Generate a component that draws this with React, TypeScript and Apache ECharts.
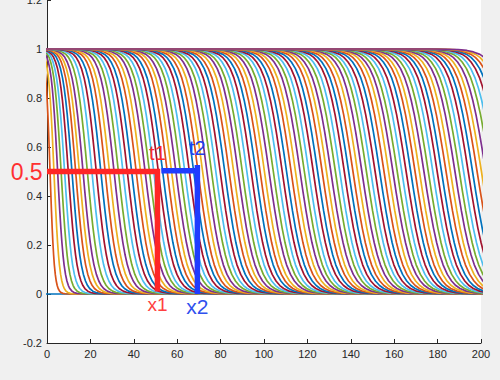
import React, { useEffect, useRef } from "react";
import * as echarts from "echarts";

// MATLAB default colour order
const COLORS = ["#0072BD", "#D95319", "#EDB120", "#7E2F8E", "#77AC30", "#4DBEEE", "#A2142F"];

// Front position (x where u = 0.5) of each curve t = 1..108
const MIDPOINTS = [
  1.4, 3.2, 4.9, 6.5, 8.1, 9.8, 11.5, 13.2, 14.9, 16.6,
  18.6, 20.7, 22.7, 24.8, 26.8, 28.8, 30.9, 32.9, 35.0, 37.0,
  39.0, 41.1, 43.1, 45.2, 47.2, 49.2, 51.3, 53.3, 55.4, 57.4,
  59.4, 61.5, 63.5, 65.6, 67.6, 69.6, 71.7, 73.7, 75.8, 77.8,
  79.8, 81.9, 83.9, 86.0, 88.0, 90.0, 92.1, 94.1, 96.2, 98.2,
  100.2, 102.3, 104.3, 106.4, 108.4, 110.4, 112.5, 114.5, 116.6, 118.6,
  120.6, 122.7, 124.7, 126.8, 128.8, 130.8, 132.9, 134.9, 137.0, 139.0,
  141.0, 143.1, 145.1, 147.2, 149.2, 151.2, 153.3, 155.3, 157.4, 159.4,
  161.4, 163.5, 165.5, 167.6, 169.6, 171.6, 173.7, 175.7, 177.8, 179.8,
  181.8, 183.9, 185.9, 188.0, 190.0, 192.0, 194.1, 196.1, 198.2, 200.2,
  202.2, 204.3, 206.3, 208.4, 210.4, 212.4, 214.5, 216.5,
];

// Relative front width of each curve t = 1..108
const WIDTHS = [
  0.22, 0.28, 0.33, 0.37, 0.41, 0.45, 0.48, 0.51, 0.54, 0.56,
  0.58, 0.6, 0.62, 0.64, 0.65, 0.67, 0.68, 0.69, 0.71, 0.72,
  0.73, 0.74, 0.75, 0.76, 0.77, 0.77, 0.78, 0.79, 0.79, 0.8,
  0.81, 0.81, 0.82, 0.82, 0.83, 0.83, 0.84, 0.84, 0.85, 0.85,
  0.86, 0.86, 0.87, 0.87, 0.87, 0.88, 0.88, 0.88, 0.89, 0.89,
  0.89, 0.9, 0.9, 0.9, 0.91, 0.91, 0.91, 0.92, 0.92, 0.92,
  0.92, 0.93, 0.93, 0.93, 0.93, 0.94, 0.94, 0.94, 0.94, 0.95,
  0.95, 0.95, 0.95, 0.95, 0.96, 0.96, 0.96, 0.96, 0.96, 0.97,
  0.97, 0.97, 0.97, 0.97, 0.97, 0.98, 0.98, 0.98, 0.98, 0.98,
  0.98, 0.99, 0.99, 0.99, 0.99, 0.99, 0.99, 0.99, 1, 1,
  1, 1, 1, 1, 1, 1, 1, 1,
];

// Shape of one front (offset from its midpoint, value)
const PROFILE_DX = [
  -40, -32, -27, -23, -20, -17, -15, -13, -11, -9, -7.5, -6, -4.5, -3, -1.5, 0,
  1.5, 3, 4.5, 6, 7.5, 9, 11, 13, 15, 17, 20, 23, 27, 32, 40,
];
const PROFILE_U = [
  1, 0.999, 0.9975, 0.994, 0.988, 0.978, 0.966, 0.947, 0.92, 0.881, 0.841, 0.791, 0.731, 0.661, 0.583, 0.5,
  0.417, 0.339, 0.269, 0.209, 0.159, 0.119, 0.08, 0.053, 0.0345, 0.0224, 0.0116, 0.006, 0.0025, 0.001, 0,
];

const X_MIN = 0, X_MAX = 200, X_STEP = 20;
const Y_MIN = -0.2, Y_MAX = 1.2, Y_STEP = 0.2;

// Annotations
const RED_PATH = [[0, 0.5], [50.9, 0.5], [50.9, 0.01]];
const BLUE_H = [[52.7, 0.503], [70.4, 0.503]];
const BLUE_V = [[69.3, 0.527], [69.3, 0]];
const RED = "#ff2626";
const BLUE = "#1f3cff";

// Annotation texts: [text, anchor x, anchor y, colour, font size, align, vertical align]
const NOTES: [string, number, number, string, number, string, string][] = [
  ["0.5", -2, 0.5, "#ff3030", 23, "right", "middle"],
  ["t1", 50.9, 0.535, "#ff2a2a", 20, "center", "bottom"],
  ["t2", 69.3, 0.555, "#2040f0", 20, "center", "bottom"],
  ["x1", 50.9, -0.005, "#ff4040", 19, "center", "top"],
  ["x2", 69.3, -0.01, "#3050ee", 21, "center", "top"],
];

const FONT = "'Liberation Sans', Arial, Helvetica, sans-serif";

export default function App() {
  const ref = useRef<HTMLDivElement>(null);
  useEffect(() => {
    if (!ref.current) return;
    const chart = echarts.init(ref.current, undefined, { renderer: "svg" });

    const series: any[] = [];
    series.push({
      type: "line",
      data: [[-10, 0], [300, 0]],
      symbol: "none",
      lineStyle: { color: COLORS[0], width: 1.7 },
      silent: true,
    });
    MIDPOINTS.forEach((mid, i) => {
      const s = WIDTHS[i];
      const pts: number[][] = [[-60, 1]];
      PROFILE_DX.forEach((d, j) => pts.push([mid + d * s, PROFILE_U[j]]));
      pts.push([320, 0]);
      series.push({
        type: "line",
        data: pts,
        symbol: "none",
        lineStyle: { color: COLORS[(i + 1) % COLORS.length], width: 1.7 },
        silent: true,
      });
    });

    const thick = (data: number[][], color: string) => ({
      type: "line",
      data,
      symbol: "none",
      z: 5,
      clip: false,
      lineStyle: { color, width: 5.5, cap: "butt", join: "miter" },
      silent: true,
    });
    series.push(thick(RED_PATH, RED));
    series.push(thick(BLUE_H, BLUE));
    series.push(thick(BLUE_V, BLUE));

    const axisCommon = {
      axisLine: { show: true, onZero: false, lineStyle: { color: "#262626", width: 1 } },
      axisTick: { show: true, inside: true, length: 4, lineStyle: { color: "#262626" } },
      splitLine: { show: false },
    };

    chart.setOption({
      animation: false,
      backgroundColor: "#f0f0f0",
      grid: {
        left: 47, right: 19, top: 0, bottom: 37,
        show: true, backgroundColor: "#ffffff", borderWidth: 0,
        outerBoundsMode: "none", containLabel: false,
      },
      xAxis: {
        type: "value",
        min: X_MIN,
        max: X_MAX,
        interval: X_STEP,
        ...axisCommon,
        axisLabel: { color: "#262626", fontSize: 11, margin: 5, fontFamily: FONT },
      },
      yAxis: {
        type: "value",
        min: Y_MIN,
        max: Y_MAX,
        interval: Y_STEP,
        ...axisCommon,
        axisLabel: {
          color: "#262626",
          fontSize: 11,
          margin: 5,
          fontFamily: FONT,
          formatter: (v: number) => String(Math.round(v * 10) / 10),
        },
      },
      series,
    });

    const graphic = NOTES.map(([text, x, y, color, size, align, va]) => {
      const [px, py] = chart.convertToPixel({ gridIndex: 0 }, [x, y]) as number[];
      return {
        type: "text",
        x: px,
        y: py,
        z: 100,
        silent: true,
        style: {
          text,
          fill: color,
          fontSize: size,
          fontFamily: FONT,
          textAlign: align,
          textVerticalAlign: va,
        },
      };
    });
    chart.setOption({ graphic });

    return () => chart.dispose();
  }, []);
  return (
    <div
      ref={ref}
      style={{ position: "fixed", left: 0, top: 0, width: 500, height: 380 }}
    />
  );
}
